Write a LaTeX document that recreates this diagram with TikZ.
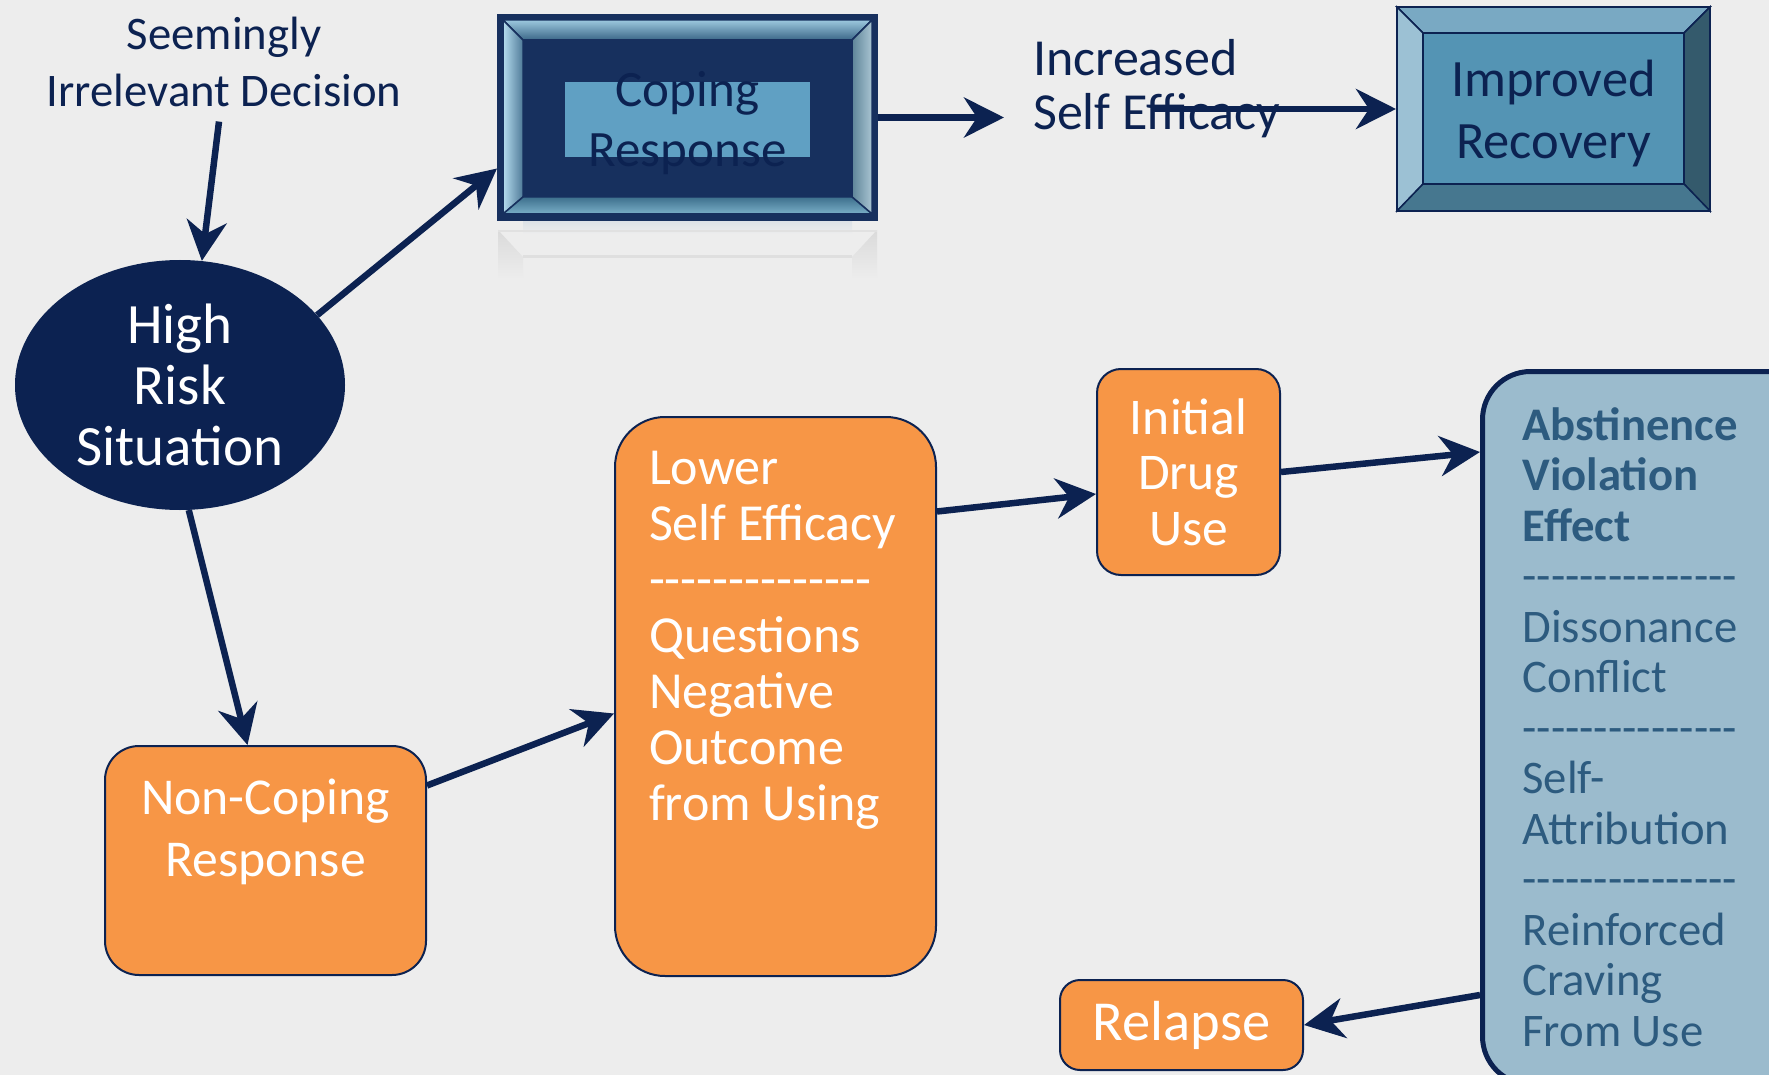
\documentclass[tikz,border=0pt]{standalone}
\usepackage{fontspec}
\setmainfont{Carlito}
\usetikzlibrary{arrows.meta,shapes.geometric,calc}
\definecolor{navy}{HTML}{0C2251}
\definecolor{bgc}{HTML}{EDEDED}
\definecolor{orangec}{HTML}{F79646}
\definecolor{aveFill}{HTML}{9BBBCD}
\definecolor{aveText}{HTML}{2D5B7F}
\definecolor{impFace}{HTML}{5494B4}
\definecolor{impTop}{HTML}{79A9C3}
\definecolor{impLeft}{HTML}{9CC1D4}
\definecolor{impRight}{HTML}{345A6C}
\definecolor{impBot}{HTML}{46778F}
\definecolor{copNavy}{HTML}{17305E}
\definecolor{copTopA}{HTML}{9CC8DE}
\definecolor{copTopB}{HTML}{3B6788}
\definecolor{copLeftA}{HTML}{B5DCEE}
\definecolor{copLeftB}{HTML}{4F7A98}
\definecolor{copRightA}{HTML}{A9C4D2}
\definecolor{copRightB}{HTML}{5E8598}
\definecolor{copBotA}{HTML}{7AAFC8}
\definecolor{copBotB}{HTML}{3D6F8C}
\definecolor{copLight}{HTML}{60A0C3}
\definecolor{refl}{HTML}{DCE1E7}
\newcount\mydashcount
\newcommand\dashrow[1]{\mydashcount=0 \loop\mbox{-}\advance\mydashcount by 1 \ifnum\mydashcount<#1 \repeat}
\begin{document}
\begin{tikzpicture}[x=1pt,y=-1pt,
  arr/.style={draw=navy,line width=6.5pt,-{Stealth[length=40pt,width=40pt,inset=13pt]}},
  obox/.style={draw=navy,line width=2pt,fill=orangec,text=white,inner sep=0pt},
  bevel/.style={draw=navy,line width=1.5pt},
  cbevel/.style={draw=copNavy,line width=1.5pt},
  faint/.style={top color=black!8!bgc,bottom color=bgc},
]
\useasboundingbox (0,0) rectangle (1769,1075);
\fill[bgc] (0,0) rectangle (1769,1075);
\clip (0,0) rectangle (1769,1075);

% Seemingly Irrelevant Decision
\node[text=navy,align=center,font=\fontsize{46.7}{57}\selectfont,inner sep=0pt] (sid) at (224,61.5) {Seemingly\\Irrelevant Decision};

% High Risk Situation
\node[ellipse,fill=navy,text=white,minimum width=330pt,minimum height=250pt,inner sep=0pt,align=center,font=\fontsize{57}{61}\selectfont] (hrs) at (180,385) {High\\Risk\\Situation};

% Coping Response (bevelled box) and its faint reflection
\fill[copNavy] (498,15) rectangle (877,220);
\shade[top color=copTopA,bottom color=copTopB,cbevel] (503,20) -- (872,20) -- (852,40) -- (523,40) -- cycle;
\shade[left color=copLeftA,right color=copLeftB,cbevel] (503,20) -- (523,40) -- (523,197) -- (503,214) -- cycle;
\shade[left color=copRightB,right color=copRightA,cbevel] (872,20) -- (852,40) -- (852,197) -- (872,214) -- cycle;
\shade[top color=copBotB,bottom color=copBotA,cbevel] (503,214) -- (523,197) -- (852,197) -- (872,214) -- cycle;
\fill[copNavy] (523,40) rectangle (852,197);
\fill[copLight] (565,82) rectangle (810,157);
\shade[top color=refl,bottom color=bgc] (523,221) rectangle (852,234);
\shade[faint] (498,230) -- (523,257) -- (523,279) -- (498,279) -- cycle;
\shade[faint] (877,230) -- (852,257) -- (852,279) -- (877,279) -- cycle;
\draw[black!6!bgc,line width=3pt] (523,257) -- (852,257);
\draw[black!5!bgc,line width=2pt] (498,231) -- (877,231);
\node[draw=copNavy,line width=2pt,inner sep=0pt,text=navy,font=\fontsize{51}{60}\selectfont] (coping) at (687.5,117.5) {\parbox[c][205pt][t]{379pt}{\centering\vspace*{52pt}\rule{0pt}{40pt}Coping\\Response}};

% Increased Self Efficacy
\node[anchor=west,align=left,text=navy,font=\fontsize{52}{54}\selectfont,inner sep=0pt] (ise) at (1033,89) {Increased\\Self Efficacy};

% Improved Recovery (bevelled box)
\filldraw[impTop,bevel] (1397,7) -- (1710,7) -- (1684,33) -- (1423,33) -- cycle;
\filldraw[impLeft,bevel] (1397,7) -- (1423,33) -- (1423,184) -- (1397,211) -- cycle;
\filldraw[impRight,bevel] (1710,7) -- (1684,33) -- (1684,184) -- (1710,211) -- cycle;
\filldraw[impBot,bevel] (1397,211) -- (1423,184) -- (1684,184) -- (1710,211) -- cycle;
\filldraw[impFace,bevel] (1423,33) rectangle (1684,184);
\node[draw=navy,line width=2pt,inner sep=0pt,text=navy,font=\fontsize{52.5}{62}\selectfont] (improved) at (1553.5,109) {\parbox[c][204pt][t]{313pt}{\centering\vspace*{50pt}\rule{0pt}{40pt}Improved\\Recovery}};

% Non-Coping Response
\node[obox,rounded corners=34pt,anchor=north west,inner xsep=20pt,inner ysep=33pt,font=\fontsize{51.7}{62}\selectfont] (nc) at (104,745) {\parbox[c][163pt][t]{281pt}{\centering Non-Coping\\Response}};

% Lower Self Efficacy
\node[obox,rounded corners=50pt,anchor=north west,inner xsep=34pt,inner ysep=34pt,font=\fontsize{52}{56}\selectfont] (lower) at (614,416) {\parbox[c][491pt][t]{253pt}{\raggedright Lower\\Self~Efficacy\\\dashrow{14}\\Questions\\Negative\\Outcome\\from~Using}};

% Initial Drug Use
\node[obox,rounded corners=24pt,minimum width=183pt,minimum height=206pt,align=center,font=\fontsize{51.5}{55.5}\selectfont] (init) at (1188.5,472) {Initial\\Drug\\Use};

% Abstinence Violation Effect
\node[draw=navy,line width=5pt,fill=aveFill,rounded corners=48pt,anchor=north west,inner xsep=40pt,inner ysep=36pt,text=aveText,font=\fontsize{46.7}{50.5}\selectfont] (ave) at (1480,369) {\parbox[c][641pt][t]{280pt}{\raggedright\textbf{Abstinence}\\\textbf{Violation}\\\textbf{Effect}\\\dashrow{15}\\Dissonance\\Conflict\\\dashrow{15}\\Self-\\Attribution\\\dashrow{15}\\Reinforced\\Craving\\From~Use}};

% Relapse
\node[obox,rounded corners=20pt,minimum width=243pt,minimum height=90pt,font=\fontsize{56.5}{60}\selectfont] (relapse) at (1181.5,1025) {Relapse};

% Connectors
\draw[arr] ([xshift=-5pt,yshift=-15pt]sid.south) -- (hrs.80);
\draw[arr] (hrs.27) -- ([yshift=-51pt]coping.west);
\draw[arr] (coping.east) -- ($(coping.east -| ise.west)+(-29,0)$);
\draw[arr] ($(improved.west -| ise.west)+(118,0)$) -- (improved.west);
\draw[arr] (hrs.-86) -- ([xshift=-18pt]nc.north);
\draw[arr] ([yshift=75pt]nc.east) -- ([yshift=-17pt]lower.west);
\draw[arr] ([yshift=185pt]lower.east) -- ([yshift=-22pt]init.west);
\draw[arr] (init.east) -- ([yshift=276pt]ave.west);
\draw[arr] ([yshift=-267pt]ave.west) -- (relapse.east);
\end{tikzpicture}
\end{document}
